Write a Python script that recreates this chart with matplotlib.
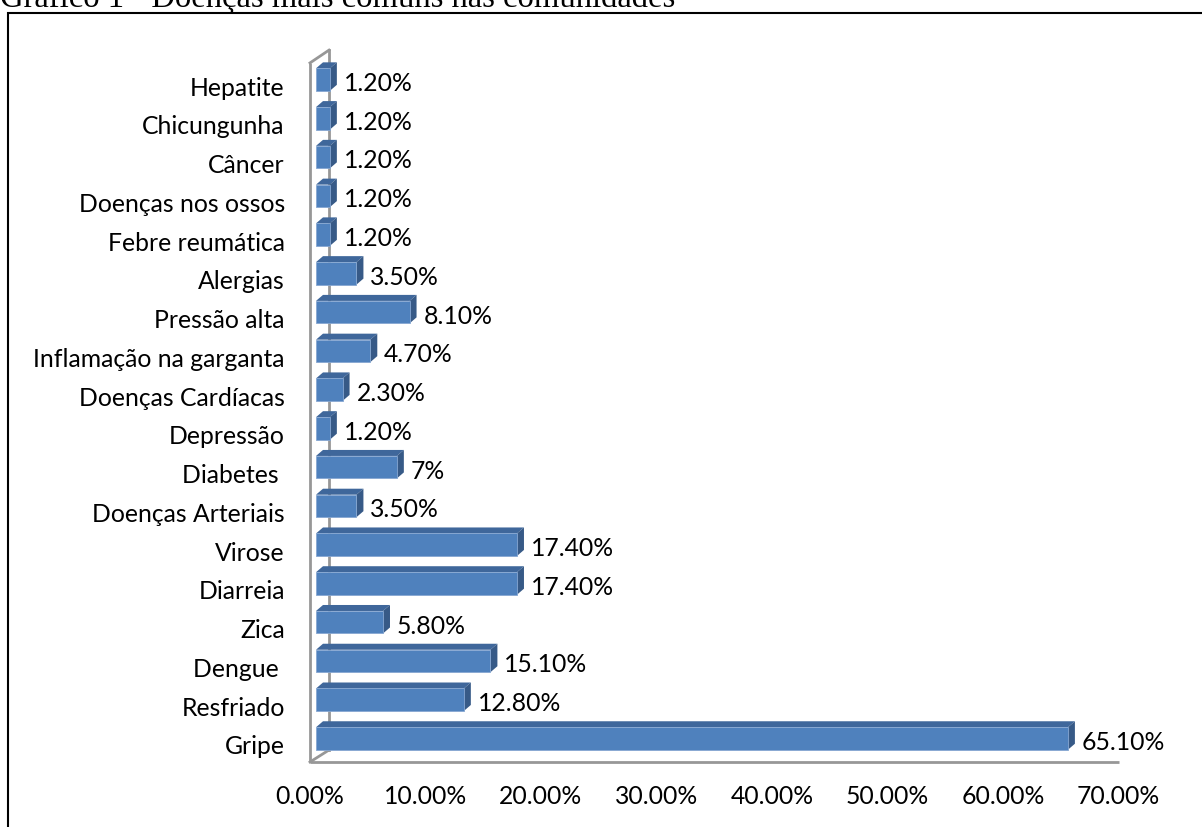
import matplotlib
matplotlib.use("Agg")
import matplotlib.pyplot as plt
from matplotlib.patches import Polygon, Rectangle
from matplotlib.transforms import ScaledTranslation

# ---- data ----
categories = ["Gripe", "Resfriado", "Dengue ", "Zica", "Diarreia", "Virose",
              "Doenças Arteriais", "Diabetes ", "Depressão", "Doenças Cardíacas",
              "Inflamação na garganta", "Pressão alta", "Alergias",
              "Febre reumática", "Doenças nos ossos", "Câncer", "Chicungunha",
              "Hepatite"]
values = [65.1, 12.8, 15.1, 5.8, 17.4, 17.4, 3.5, 7.0, 1.2, 2.3, 4.7, 8.1,
          3.5, 1.2, 1.2, 1.2, 1.2, 1.2]
x_ticks = [0, 10, 20, 30, 40, 50, 60, 70]
x_tick_labels = [f"{t:.2f}%" for t in x_ticks]
title = "Gráfico 1 - Doenças mais comuns nas comunidades"

# ---- styling ----
FRONT = "#4F81BD"
TOP = "#3F679B"
SIDE = "#375A87"
EDGE = "#86A7D2"
GRID = "#979797"
LABEL_FONT = ["Lato", "DejaVu Sans"]
FS = 17.8

W_PX, H_PX = 1202, 827
fig = plt.figure(figsize=(W_PX / 100, H_PX / 100), dpi=100)

# pixel geometry of the plot area
px_per_unit_x = 11.55
x0_px = 316.0
px_per_unit_y = 38.76
y0_px = 738.5
xlim = (-1.5, 71.0)
ylim = (-1.2, 18.5)
left_px = x0_px + xlim[0] * px_per_unit_x
right_px = x0_px + xlim[1] * px_per_unit_x
top_px = y0_px - ylim[1] * px_per_unit_y
bot_px = y0_px - ylim[0] * px_per_unit_y
ax = fig.add_axes([left_px / W_PX, 1 - bot_px / H_PX,
                   (right_px - left_px) / W_PX, (bot_px - top_px) / H_PX])
ax.set_xlim(*xlim)
ax.set_ylim(*ylim)
for s in ax.spines.values():
    s.set_visible(False)
ax.patch.set_alpha(0)

# 3D offsets (depth of the bars, depth of the wall/floor)
dx = 7 / px_per_unit_x
dy = 6 / px_per_unit_y
shift_x = -6 / px_per_unit_x          # floor front edge sits left of the bars
floor_y = -0.606
wall_back_x = 13 / px_per_unit_x
wall_front_top = 17.43
wall_back_top = 17.76
wall_back_bottom = -0.297
floor_end = 70 + shift_x

# wall and floor outline
lw = 2.0
ax.plot([shift_x, shift_x], [floor_y, wall_front_top], color=GRID, lw=lw, zorder=1,
        solid_capstyle="butt")
ax.plot([shift_x, wall_back_x], [wall_front_top, wall_back_top], color=GRID, lw=lw, zorder=1)
ax.plot([wall_back_x, wall_back_x], [wall_back_top, wall_back_bottom], color=GRID, lw=lw, zorder=1)
ax.plot([shift_x, wall_back_x], [floor_y, wall_back_bottom], color=GRID, lw=lw, zorder=1)
ax.plot([shift_x, floor_end], [floor_y, floor_y], color=GRID, lw=lw, zorder=1,
        solid_capstyle="butt")

# bars
h = 0.58
ypos = list(range(len(categories)))
ax.barh(ypos, values, height=h, left=0, color=FRONT, edgecolor=EDGE,
        linewidth=0.6, zorder=3)
for y, v in zip(ypos, values):
    t = y + h / 2
    b = y - h / 2
    ax.add_patch(Polygon([(0, t), (v, t), (v + dx, t + dy), (dx, t + dy)],
                         closed=True, facecolor=TOP, edgecolor="none", zorder=2.9))
    ax.add_patch(Polygon([(v, b), (v, t), (v + dx, t + dy), (v + dx, b + dy)],
                         closed=True, facecolor=SIDE, edgecolor="none", zorder=2.9))
    lbl = f"{v:g}%" if float(v).is_integer() else f"{v:.2f}%"
    ax.text(v + dx + 0.6, y - 0.1, lbl, ha="left", va="center",
            fontsize=FS, family=LABEL_FONT, color="black", zorder=4)

# category labels
ax.set_yticks(ypos, labels=categories)
ax.tick_params(axis="y", length=0, pad=10)
ax.tick_params(axis="x", length=0, pad=0)
for lab in ax.get_yticklabels():
    lab.set_fontsize(FS)
    lab.set_family(LABEL_FONT)
    lab.set_transform(lab.get_transform() + ScaledTranslation(0, -6.5 / 100, fig.dpi_scale_trans))

ax.set_xticks(x_ticks, labels=x_tick_labels)
for lab in ax.get_xticklabels():
    lab.set_fontsize(FS)
    lab.set_family(LABEL_FONT)
    lab.set_transform(lab.get_transform() + ScaledTranslation(-6 / 100, 0, fig.dpi_scale_trans))

# frame around the chart and the caption above it
fig.patches.append(Rectangle((8 / W_PX, -0.05), 1.2, 1.05 - 13 / H_PX,
                             transform=fig.transFigure, fill=False,
                             edgecolor="black", lw=1.5, zorder=0))
fig.text(0.0, 1 - 7 / H_PX, title, ha="left", va="baseline",
         family=["Liberation Serif", "DejaVu Serif"], fontsize=23.5, color="black")

fig.savefig("out.png", dpi=100, facecolor="white")
